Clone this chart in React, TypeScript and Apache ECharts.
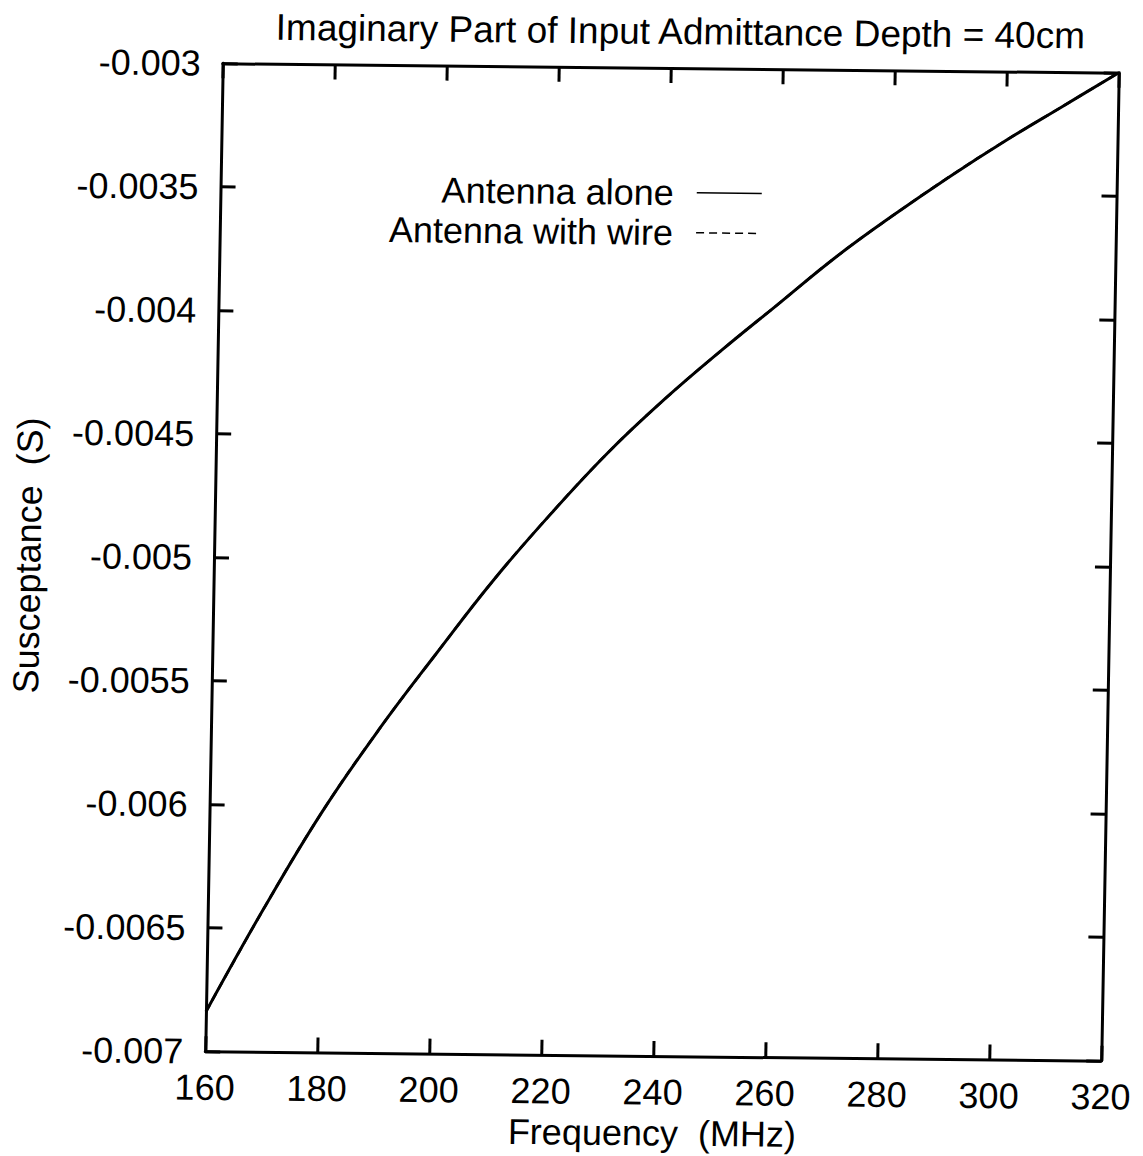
import React, { useEffect, useRef } from "react";
import * as echarts from "echarts";

const frequencyMHz = [160, 170, 180, 190, 200, 210, 220, 230, 240, 250, 260, 270, 280, 290, 300, 310, 320];
const antennaAlone = [-0.00684, -0.00642, -0.00603, -0.00569, -0.00538, -0.00508, -0.00481, -0.00456, -0.00434, -0.00414, -0.00395, -0.00376, -0.00359, -0.00343, -0.00328, -0.00314, -0.003];
const antennaWithWire = [-0.00684, -0.00642, -0.00603, -0.00569, -0.00538, -0.00508, -0.00481, -0.00456, -0.00434, -0.00414, -0.00395, -0.00376, -0.00359, -0.00343, -0.00328, -0.00314, -0.003];

const titleText = "Imaginary Part of Input Admittance Depth = 40cm";
const xName = "Frequency  (MHz)";
const yName = "Susceptance  (S)";
const seriesNames = ["Antenna alone", "Antenna with wire"];

const FONT = "'Liberation Sans', Arial, Helvetica, sans-serif";

export default function App() {
  const ref = useRef<HTMLDivElement>(null);
  useEffect(() => {
    if (!ref.current) return;
    const chart = echarts.init(ref.current, undefined, { renderer: "svg" });
    const axisLine = { show: true, lineStyle: { color: "#000", width: 3 } };
    const axisTick = { show: true, inside: true, length: 15, lineStyle: { color: "#000", width: 3 } };
    const labelStyle = { color: "#000", fontSize: 36, fontFamily: FONT };
    const toPts = (ys: number[]) => frequencyMHz.map((x, i) => [x, ys[i]]);
    chart.setOption({
      animation: false,
      backgroundColor: "#fff",
      title: {
        text: titleText,
        left: 666,
        top: 8,
        textAlign: "center",
        textStyle: { color: "#000", fontSize: 37, fontWeight: "normal", fontFamily: FONT },
      },
      legend: {
        orient: "vertical",
        right: 382,
        top: 169,
        align: "right",
        itemWidth: 65,
        itemHeight: 14,
        itemGap: 3,
        lineStyle: { width: 1.5 },
        itemStyle: { color: "transparent", borderColor: "transparent", borderWidth: 0, opacity: 0 },
        textStyle: { color: "#000", fontSize: 36, fontFamily: FONT, lineHeight: 37, padding: [0, 18, 0, 0] },
        data: seriesNames,
      },
      grid: { left: 214, right: 29, top: 68, bottom: 100, containLabel: false },
      xAxis: [
        {
          type: "value",
          min: 160,
          max: 320,
          interval: 20,
          position: "bottom",
          name: xName,
          nameLocation: "middle",
          nameGap: 58,
          nameTextStyle: labelStyle,
          axisLine,
          axisTick,
          splitLine: { show: false },
          axisLabel: { ...labelStyle, margin: 18 },
        },
        {
          type: "value",
          min: 160,
          max: 320,
          interval: 20,
          position: "top",
          axisLine,
          axisTick,
          splitLine: { show: false },
          axisLabel: { show: false },
        },
      ],
      yAxis: [
        {
          type: "value",
          min: -0.007,
          max: -0.003,
          interval: 0.0005,
          position: "left",
          name: yName,
          nameLocation: "middle",
          nameGap: 168,
          nameTextStyle: labelStyle,
          axisLine,
          axisTick,
          splitLine: { show: false },
          axisLabel: { ...labelStyle, margin: 22, formatter: (v: number) => String(+v.toFixed(4)) },
        },
        {
          type: "value",
          min: -0.007,
          max: -0.003,
          interval: 0.0005,
          position: "right",
          axisLine,
          axisTick,
          splitLine: { show: false },
          axisLabel: { show: false },
        },
      ],
      series: [
        {
          name: seriesNames[1],
          type: "line",
          data: toPts(antennaWithWire),
          smooth: 0.4,
          symbol: "none",
          lineStyle: { color: "#000", width: 2.5, type: [8, 5] },
          itemStyle: { color: "#000" },
          z: 2,
        },
        {
          name: seriesNames[0],
          type: "line",
          data: toPts(antennaAlone),
          smooth: 0.4,
          symbol: "none",
          lineStyle: { color: "#000", width: 3, type: "solid" },
          itemStyle: { color: "#000" },
          z: 3,
        },
      ],
    });
    return () => chart.dispose();
  }, []);
  return (
    <div
      ref={ref}
      style={{
        position: "absolute",
        left: 0,
        top: 0,
        width: 1143,
        height: 1156,
        background: "#fff",
        transform: "matrix(1, 0.0105, -0.0177, 1, 0, 0)",
        transformOrigin: "663.75px 561.75px",
      }}
    />
  );
}
